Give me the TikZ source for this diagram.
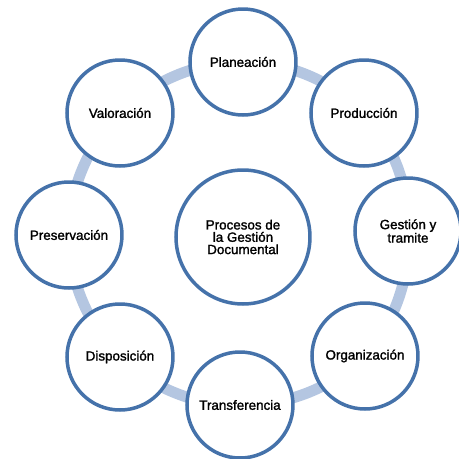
\documentclass[tikz,border=0pt]{standalone}
\usepackage{fontspec}
\setmainfont{Liberation Sans}
\newfontfamily\procfont{Liberation Sans}[FakeBold=1.5]
\usetikzlibrary{backgrounds}
\definecolor{ringblue}{RGB}{69,114,170}
\definecolor{bandblue}{RGB}{180,198,225}

\begin{document}
\begin{tikzpicture}[x=1pt,y=1pt,
 proc/.style={circle,draw=ringblue,line width=3.5pt,fill=white,minimum size=106pt,inner sep=0pt,align=center,font=\procfont\fontsize{13.4}{12.3}\selectfont},
 band/.style={draw=bandblue,line width=11pt}]
 \useasboundingbox (-243,-225) rectangle (216,234);
 % centre
 \node[proc,minimum size=134pt] (core) at (0,-3) {Procesos de\\la Gestión\\Documental};
 % ring of processes
 \node[proc] (plan) at (0,172) {Planeación};
 \node[proc] (prod) at (121,121) {Producción};
 \node[proc] (gest) at (165,3) {Gestión y\\tramite};
 \node[proc] (orga) at (122,-122) {Organización};
 \node[proc] (tran) at (-3,-171) {Transferencia};
 \node[proc] (disp) at (-123,-123) {Disposición};
 \node[proc] (pres) at (-174,-1) {Preservación};
 \node[proc] (valo) at (-123,121) {Valoración};
 \begin{scope}[on background layer,looseness=0.885]
 \draw[band] (plan.center) to[bend left=22.5] (prod.center);
 \draw[band] (prod.center) to[bend left=22.5] (gest.center);
 \draw[band] (gest.center) to[bend left=22.5] (orga.center);
 \draw[band] (orga.center) to[bend left=22.5] (tran.center);
 \draw[band] (tran.center) to[bend left=22.5] (disp.center);
 \draw[band] (disp.center) to[bend left=22.5] (pres.center);
 \draw[band] (pres.center) to[bend left=22.5] (valo.center);
 \draw[band] (valo.center) to[bend left=22.5] (plan.center);
 \end{scope}
\end{tikzpicture}
\end{document}
